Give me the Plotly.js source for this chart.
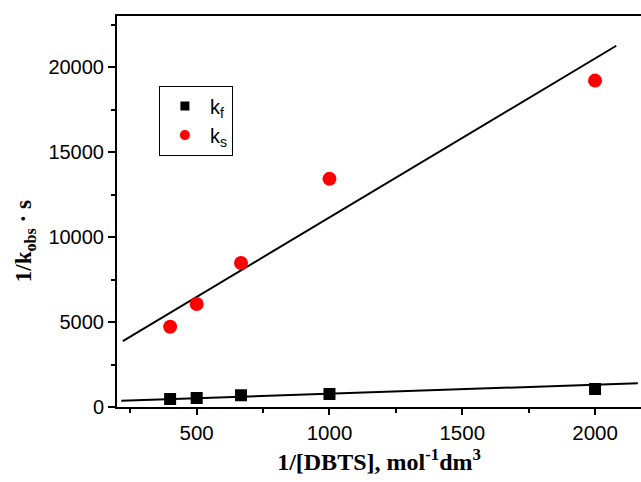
<!DOCTYPE html>
<html>
<head>
<meta charset="utf-8">
<script src="https://cdn.plot.ly/plotly-3.0.1.min.js"></script>
<style>
  html, body { margin: 0; padding: 0; overflow: hidden; background: #fff; }
  #chart { width: 641px; height: 482px; }
</style>
</head>
<body>
<div id="chart"></div>
<script>
// Inverse substrate concentration, 1/[DBTS] (mol^-1 dm^3)
const invConc = [400, 500, 667, 1000, 2000];
// Inverse observed rate constants, 1/k_obs (s)
const invKf = [470, 530, 690, 765, 1060];
const invKs = [4720, 6060, 8470, 13420, 19200];

// Linear fit lines (end points)
const fitKfX = [216, 2161];
const fitKfY = [371, 1394];
const fitKsX = [222, 2080];
const fitKsY = [3880, 21250];

// Axis tick values and labels
const xTicks = [500, 1000, 1500, 2000];
const xMinor = [250, 750, 1250, 1750];
const yTicks = [0, 5000, 10000, 15000, 20000];
const yTickText = ['0', '5000', '10000', '15000', '20000'];
const yMinor = [2500, 7500, 12500, 17500, 22500];

const serif = 'Liberation Serif';
const sans = 'Liberation Sans';

const traces = [
  { x: fitKfX, y: fitKfY, mode: 'lines', line: { color: '#000', width: 2 }, showlegend: false, hoverinfo: 'skip' },
  { x: fitKsX, y: fitKsY, mode: 'lines', line: { color: '#000', width: 2 }, showlegend: false, hoverinfo: 'skip' },
  { x: invConc, y: invKf, mode: 'markers', marker: { symbol: 'square', size: 12, color: '#000' }, showlegend: false },
  { x: invConc, y: invKs, mode: 'markers', marker: { symbol: 'circle', size: 14, color: '#ff0000' }, showlegend: false },
  // legend entries
  { x: [null], y: [null], mode: 'markers', name: 'k<sub>f</sub>', marker: { symbol: 'square', size: 9, color: '#000' } },
  { x: [null], y: [null], mode: 'markers', name: 'k<sub>s</sub>', marker: { symbol: 'circle', size: 10, color: '#ff0000' } }
];

const layout = {
  width: 641,
  height: 482,
  margin: { l: 117, r: 0, t: 16, b: 75 },
  paper_bgcolor: '#fff',
  plot_bgcolor: '#fff',
  font: { family: sans, size: 20, color: '#000' },
  xaxis: {
    range: [200, 2173],
    tickmode: 'array',
    tickvals: xTicks,
    ticks: 'outside', ticklen: 6, tickwidth: 2, tickcolor: '#000',
    minor: { tickvals: xMinor, ticks: 'outside', ticklen: 4, tickwidth: 2, tickcolor: '#000' },
    showline: true, linewidth: 2, linecolor: '#000', mirror: true,
    showgrid: false, zeroline: false,
    tickfont: { family: sans, size: 20.5, color: '#000' },
    title: { text: '1/[DBTS], mol<sup>-1</sup>dm<sup>3</sup>', font: { family: serif, size: 24, color: '#000', weight: 'bold' }, standoff: 11 }
  },
  yaxis: {
    range: [0, 23000],
    tickmode: 'array',
    tickvals: yTicks,
    ticktext: yTickText,
    ticks: 'outside', ticklen: 7, tickwidth: 2, tickcolor: '#000',
    minor: { tickvals: yMinor, ticks: 'outside', ticklen: 4, tickwidth: 2, tickcolor: '#000' },
    showline: true, linewidth: 2, linecolor: '#000', mirror: false,
    showgrid: false, zeroline: false,
    tickfont: { family: sans, size: 20, color: '#000' }
  },
  annotations: [{
    text: '1/k<sub>obs</sub> · s',
    xref: 'paper', yref: 'paper',
    x: -0.175, y: 0.425,
    xanchor: 'center', yanchor: 'middle',
    textangle: -90, showarrow: false,
    font: { family: serif, size: 23, color: '#000', weight: 'bold' }
  }],
  legend: {
    x: 0.08, y: 0.822, xanchor: 'left', yanchor: 'top',
    bordercolor: '#000', borderwidth: 1, bgcolor: '#fff',
    font: { family: sans, size: 20, color: '#000' },
    itemwidth: 40
  },
  showlegend: true
};

Plotly.newPlot('chart', traces, layout, { displayModeBar: false, staticPlot: true });
</script>
</body>
</html>
